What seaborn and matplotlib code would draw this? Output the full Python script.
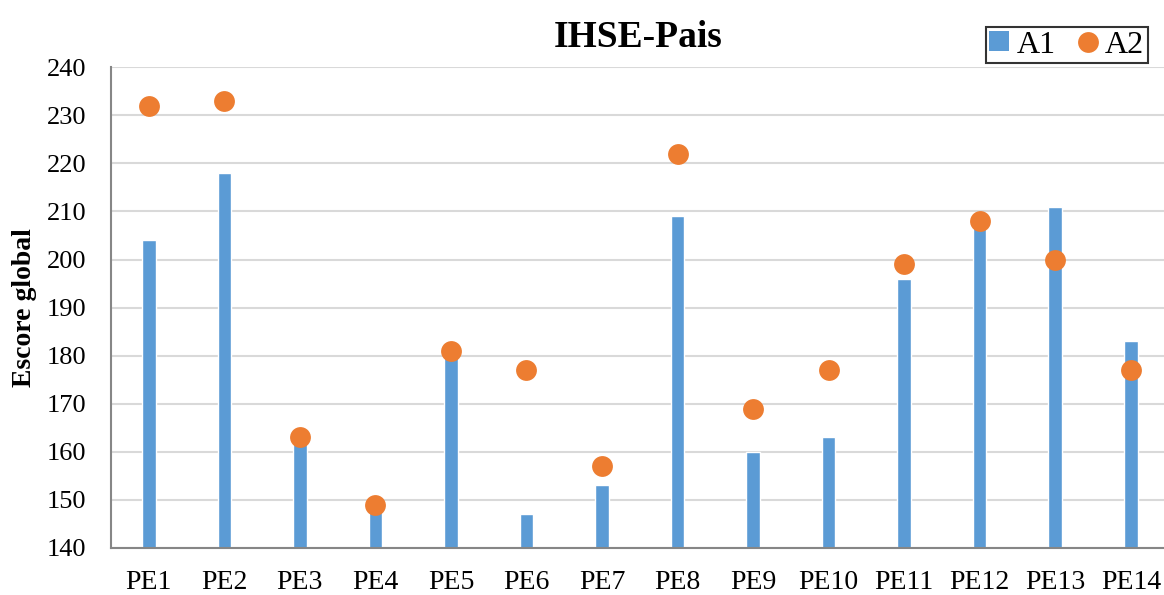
import matplotlib
matplotlib.use("Agg")
import matplotlib.pyplot as plt
import seaborn as sns
import pandas as pd
from matplotlib.lines import Line2D
from matplotlib.patches import Patch

categories = ["PE1", "PE2", "PE3", "PE4", "PE5", "PE6", "PE7",
              "PE8", "PE9", "PE10", "PE11", "PE12", "PE13", "PE14"]
a1 = [204, 218, 162, 148, 181, 147, 153, 209, 160, 163, 196, 207, 211, 183]
a2 = [232, 233, 163, 149, 181, 177, 157, 222, 169, 177, 199, 208, 200, 177]
yticks = [140, 150, 160, 170, 180, 190, 200, 210, 220, 230, 240]

sns.set_theme(style="white")
plt.rcParams['font.family'] = ['Liberation Serif', 'DejaVu Serif']
plt.rcParams['text.color'] = 'black'
plt.rcParams['xtick.color'] = 'black'
plt.rcParams['ytick.color'] = 'black'
plt.rcParams['axes.labelcolor'] = 'black'

df = pd.DataFrame({"cat": categories, "A1": a1, "A2": a2})

fig = plt.figure(figsize=(11.64, 5.95), dpi=100)
ax = fig.add_axes([0.0954, 0.079, 0.9085, 0.808])

blue = "#5b9bd5"
orange = "#ed7d31"

sns.barplot(data=df, x="cat", y="A1", color=blue, width=0.18, ax=ax,
            saturation=1)
sns.stripplot(data=df, x="cat", y="A2", color=orange, jitter=False, size=15,
              ax=ax, zorder=5, linewidth=0)

ax.set_ylim(140, 240)
ax.set_xlim(-0.5, 13.5)
ax.set_yticks(yticks)
ax.set_yticklabels([str(t) for t in yticks], fontsize=19)
ax.set_xticks(range(len(categories)))
ax.set_xticklabels(categories, fontsize=20)
ax.tick_params(axis="x", pad=16, length=0)
ax.tick_params(axis="y", pad=18, length=0)
ax.set_xlabel("")
ax.set_ylabel("Escore global", fontsize=20, fontweight="bold", labelpad=7)
ax.yaxis.grid(True, color="#d9d9d9", linewidth=1.5)
ax.set_axisbelow(True)
for s in ["top", "right"]:
    ax.spines[s].set_visible(False)
ax.spines["left"].set_color("#868686")
ax.spines["bottom"].set_color("#868686")
ax.spines["left"].set_linewidth(1.5)
ax.spines["bottom"].set_linewidth(1.5)

fig.text(0.548, 0.937, "IHSE-Pais", ha="center", va="center", fontsize=27, fontweight="bold")

handles = [Patch(facecolor=blue, edgecolor="none", label="A1"),
           Line2D([0], [0], marker="o", color="none", markerfacecolor=orange,
                  markeredgecolor="none", markersize=15, label="A2")]
leg = fig.legend(handles=handles, loc="upper right", bbox_to_anchor=(1.0, 0.982),
                 ncol=2, frameon=True, fancybox=False, fontsize=23,
                 handlelength=0.6, handletextpad=0.25, columnspacing=0.7,
                 borderpad=0.12, handleheight=0.6)
leg.get_frame().set_edgecolor("black")
leg.get_frame().set_linewidth(1.5)

fig.savefig("out.png", dpi=100)
